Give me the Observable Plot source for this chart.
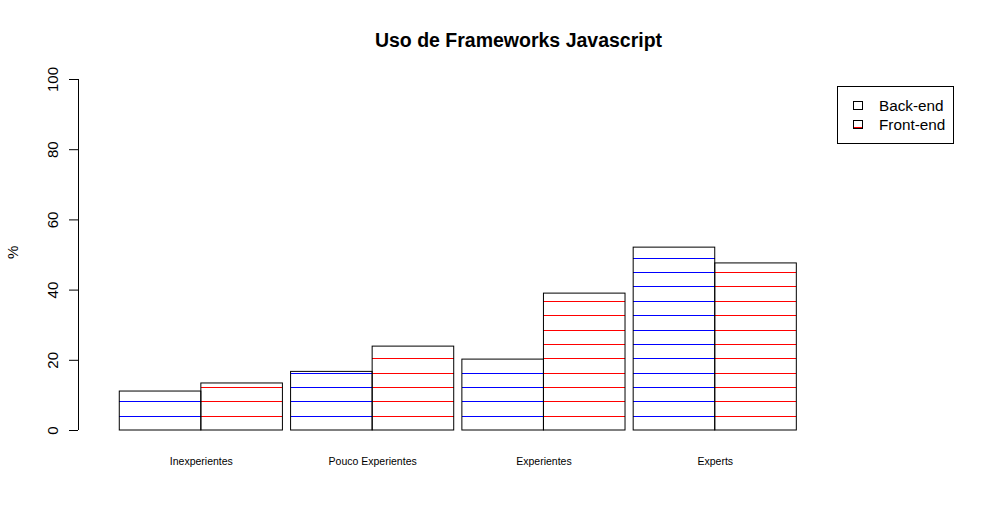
<!DOCTYPE html>
<html>
<head>
<meta charset="utf-8">
<script src="https://cdn.jsdelivr.net/npm/d3@7"></script>
<script src="https://cdn.jsdelivr.net/npm/@observablehq/plot@0.6"></script>
<style>
  body { margin: 0; background: #fff; font-family: "Liberation Sans", Arial, sans-serif; }
  #wrap { position: relative; width: 1000px; height: 528px; overflow: hidden; }
  #title { position: absolute; left: 0; width: 1037px; top: 29px; text-align: center;
           font-weight: bold; font-size: 19.5px; line-height: 22px; color: #000; }
  #legend { position: absolute; left: 837px; top: 86px; width: 117px; height: 58px;
            box-sizing: border-box; border: 1px solid #000; background: #fff; }
  .item { position: absolute; left: 15px; height: 20px; font-size: 15.3px; line-height: 20px; color: #000; }
  .item svg { position: absolute; left: 0; top: 5px; }
  .item span { position: absolute; left: 26px; top: 0; white-space: nowrap; }
</style>
</head>
<body>
<div id="wrap">
  <div id="title">Uso de Frameworks Javascript</div>
  <div id="chart"></div>
  <div id="legend"></div>
</div>
<script>
// ---- data ----
const groups = ["Inexperientes", "Pouco Experientes", "Experientes", "Experts"];
const series = ["Back-end", "Front-end"];
const backEnd = [11.1, 16.7, 20.2, 52.1];
const frontEnd = [13.4, 23.9, 39.0, 47.6];
const yTicks = [0, 20, 40, 60, 80, 100];
const yLabel = "%";
const hatchColors = ["blue", "red"];
const hatchStep = 4.09; // spacing of the horizontal shading lines, in % units

// ---- layout (R barplot style: width 1, space c(0, 0.1)) ----
const barWidth = 1, groupSpace = 0.1;
const xDomain = [-0.406, 8.911];
const rows = [];
groups.forEach((g, i) => {
  [backEnd, frontEnd].forEach((vals, s) => {
    const x1 = groupSpace + i * (2 * barWidth + groupSpace) + s * barWidth;
    rows.push({group: g, series: series[s], s, value: vals[i], x1, x2: x1 + barWidth});
  });
});
const centers = groups.map((g, i) => groupSpace + i * (2 * barWidth + groupSpace) + barWidth);

// shading lines derived from each bar's height
const hatch = [];
rows.forEach(r => {
  for (let k = 1; k * hatchStep < r.value; k++) {
    hatch.push({x1: r.x1, x2: r.x2, y: k * hatchStep, color: hatchColors[r.s]});
  }
});

const font = "'Liberation Sans', Arial, sans-serif";
const chart = Plot.plot({
  width: 1000, height: 528,
  marginLeft: 78, marginRight: 162, marginTop: 79, marginBottom: 98,
  style: {fontFamily: font, background: "white", color: "black", overflow: "visible"},
  x: {domain: xDomain, axis: null},
  y: {domain: [yTicks[0], yTicks[yTicks.length - 1]], axis: null},
  color: {type: "identity"},
  marks: [
    Plot.rectY(rows, {x1: "x1", x2: "x2", y1: 0, y2: "value", fill: "white"}),
    Plot.ruleY(hatch, {x1: "x1", x2: "x2", y: "y", stroke: "color", strokeWidth: 1, shapeRendering: "crispEdges"}),
    Plot.rectY(rows, {x1: "x1", x2: "x2", y1: 0, y2: "value", fill: "none", stroke: "black", strokeWidth: 1}),
    Plot.ruleX([xDomain[0]], {y1: yTicks[0], y2: yTicks[yTicks.length - 1], stroke: "black", strokeWidth: 1}),
    Plot.axisY(yTicks, {
      anchor: "left", tickSize: 9, tickPadding: 12, tickRotate: -90, fontSize: 15,
      label: null, stroke: "black"
    }),
    Plot.text([yLabel], {frameAnchor: "left", rotate: -90, dx: -65, dy: 4, fontSize: 15, fill: "black"}),
    Plot.text(groups, {
      x: (d, i) => centers[i], frameAnchor: "bottom", dy: 34,
      text: d => d, fontSize: 10.5, fill: "black"
    })
  ]
});
document.getElementById("chart").appendChild(chart);

// legend
const legend = document.getElementById("legend");
series.forEach((name, s) => {
  const it = document.createElement("div");
  it.className = "item";
  it.style.top = (9 + s * 19) + "px";
  const sw = `<svg width="11" height="11"><rect x="0.5" y="0.5" width="9" height="8" fill="white" stroke="black"/>` +
    (s === 1 ? `<line x1="1" x2="9" y1="7.5" y2="7.5" stroke="${hatchColors[s]}"/>` : "") + `</svg>`;
  it.innerHTML = sw + `<span>${name}</span>`;
  legend.appendChild(it);
});
</script>
</body>
</html>
